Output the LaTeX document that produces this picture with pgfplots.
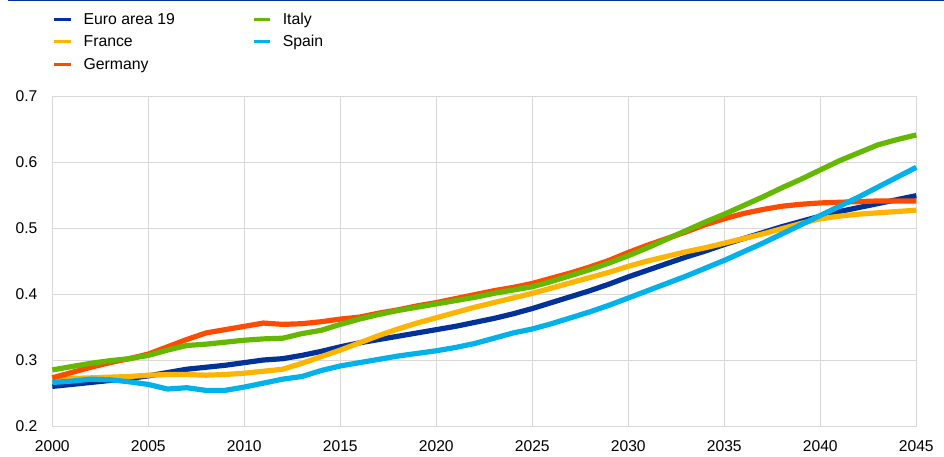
\documentclass[border=0pt]{standalone}
\usepackage{fontspec}
\setmainfont{Liberation Sans}
\usepackage{pgfplots}
\pgfplotsset{compat=1.18}
\usepackage{pgfplotstable}
\definecolor{ecbblue}{HTML}{003299}
\definecolor{ecbyellow}{HTML}{FFB400}
\definecolor{ecborange}{HTML}{FF4B00}
\definecolor{ecbgreen}{HTML}{65B800}
\definecolor{ecblight}{HTML}{00B1EA}
\definecolor{gridgray}{HTML}{D9D9D9}
\pgfplotstableread{
year ea fr de it es
2000 0.260 0.270 0.273 0.285 0.266
2001 0.263 0.272 0.281 0.290 0.268
2002 0.266 0.273 0.289 0.295 0.271
2003 0.269 0.274 0.296 0.299 0.270
2004 0.272 0.275 0.302 0.302 0.267
2005 0.276 0.277 0.309 0.307 0.263
2006 0.281 0.278 0.320 0.315 0.256
2007 0.286 0.278 0.331 0.322 0.258
2008 0.289 0.277 0.341 0.324 0.254
2009 0.292 0.278 0.346 0.327 0.254
2010 0.296 0.280 0.351 0.330 0.259
2011 0.300 0.283 0.356 0.332 0.265
2012 0.302 0.286 0.354 0.333 0.271
2013 0.307 0.295 0.355 0.340 0.275
2014 0.313 0.305 0.358 0.345 0.284
2015 0.320 0.315 0.362 0.354 0.291
2016 0.326 0.326 0.365 0.362 0.296
2017 0.331 0.337 0.371 0.369 0.301
2018 0.336 0.347 0.376 0.375 0.306
2019 0.341 0.356 0.382 0.380 0.310
2020 0.346 0.364 0.387 0.385 0.314
2021 0.351 0.372 0.393 0.390 0.319
2022 0.357 0.380 0.399 0.395 0.325
2023 0.363 0.387 0.405 0.401 0.333
2024 0.370 0.394 0.410 0.406 0.341
2025 0.378 0.401 0.416 0.411 0.347
2026 0.387 0.409 0.424 0.419 0.355
2027 0.396 0.417 0.432 0.428 0.364
2028 0.405 0.425 0.441 0.437 0.373
2029 0.415 0.433 0.451 0.447 0.383
2030 0.426 0.442 0.463 0.458 0.394
2031 0.436 0.450 0.474 0.470 0.405
2032 0.446 0.457 0.484 0.483 0.416
2033 0.456 0.464 0.494 0.496 0.427
2034 0.465 0.470 0.505 0.509 0.439
2035 0.475 0.477 0.514 0.521 0.451
2036 0.484 0.484 0.522 0.534 0.464
2037 0.493 0.491 0.528 0.547 0.477
2038 0.502 0.499 0.533 0.561 0.491
2039 0.510 0.507 0.536 0.574 0.505
2040 0.518 0.514 0.538 0.588 0.519
2041 0.525 0.518 0.539 0.602 0.533
2042 0.531 0.521 0.540 0.614 0.547
2043 0.537 0.523 0.541 0.626 0.562
2044 0.543 0.525 0.541 0.634 0.577
2045 0.549 0.527 0.541 0.641 0.592
}\datatable
\begin{document}
\begin{tikzpicture}
\useasboundingbox (0,0) rectangle (472pt,-228pt);
\draw[ecbblue, line width=0.65pt] (4pt,-0.33pt) -- (472pt,-0.33pt);
\begin{axis}[
  at={(26.15pt,-213pt)}, anchor=south west,
  scale only axis, width=432pt, height=165pt,
  xmin=2000, xmax=2045, ymin=0.2, ymax=0.7,
  xtick={2000,2005,2010,2015,2020,2025,2030,2035,2040,2045},
  ytick={0.2,0.3,0.4,0.5,0.6,0.7},
  grid=major, grid style={draw=gridgray, line width=0.5pt},
  axis line style={draw=gridgray, line width=0.5pt},
  major tick length=0pt, tick style={draw=none},
  clip=false,
  /pgf/number format/assume math mode=true,
  ticklabel style={font=\fontsize{7.8}{9}\selectfont, text=black},
  x tick label style={/pgf/number format/1000 sep={}, inner sep=0pt, anchor=north, yshift=-7.35pt},
  y tick label style={/pgf/number format/fixed, /pgf/number format/precision=1, /pgf/number format/fixed zerofill, inner sep=0pt, anchor=east, xshift=-7.3pt},
  legend columns=2,
  legend cell align=left,
  legend style={draw=none, fill=none, at={(0,1)}, anchor=south west, yshift=11.5pt, inner sep=0pt,
    font=\fontsize{7.9}{9}\selectfont,
    nodes={inner sep=0pt, text height=5.7pt, text depth=1.7pt},
    row sep=3.8pt,
    /tikz/every odd column/.append style={column sep=5.5pt},
    /tikz/every even column/.append style={column sep=38.5pt}},
  legend image code/.code={\draw[line width=1.65pt] (0pt,0.5pt) -- (8.3pt,0.5pt);},
  every axis plot/.append style={line width=2.6pt, line join=round, no marks},
]
\addplot[ecbblue, forget plot] table[x=year, y=ea] {\datatable};
\addplot[ecbyellow, forget plot] table[x=year, y=fr] {\datatable};
\addplot[ecborange, forget plot] table[x=year, y=de] {\datatable};
\addplot[ecbgreen, forget plot] table[x=year, y=it] {\datatable};
\addplot[ecblight, forget plot] table[x=year, y=es] {\datatable};
\addlegendimage{ecbblue}\addlegendentry{Euro area 19}
\addlegendimage{ecbgreen}\addlegendentry{Italy}
\addlegendimage{ecbyellow}\addlegendentry{France}
\addlegendimage{ecblight}\addlegendentry{Spain}
\addlegendimage{ecborange}\addlegendentry{Germany}
\end{axis}
\end{tikzpicture}
\end{document}
